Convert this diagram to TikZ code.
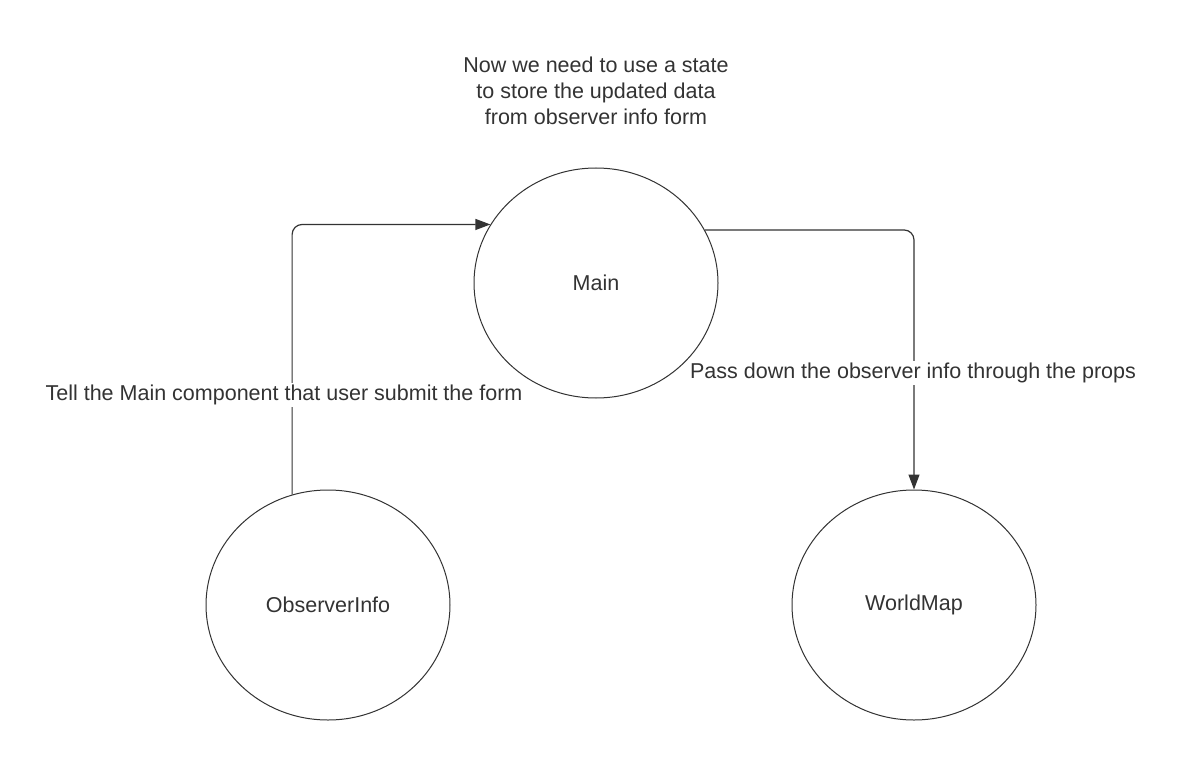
\documentclass[tikz,border=0pt]{standalone}
\usepackage{fontspec}
\setmainfont{Liberation Sans}
\usetikzlibrary{arrows.meta,shapes.geometric}
\definecolor{ink}{HTML}{333333}
\begin{document}
\begin{tikzpicture}[x=1pt,y=-1pt,
  comp/.style={draw=ink, line width=1pt, ellipse, minimum width=244pt, minimum height=230pt, inner sep=0pt, font=\fontsize{21.5}{25}\selectfont, text=ink},
  lbl/.style={fill=white, text=ink, font=\fontsize{21.5}{25}\selectfont, inner sep=2pt},
  note/.style={text=ink, font=\fontsize{21.5}{26}\selectfont, align=center},
  conn/.style={draw=ink, line width=1.2pt, rounded corners=10pt, -{Triangle[length=15pt,width=11pt]}}]
\useasboundingbox[fill=white] (0,0) rectangle (1191,770);
\node[comp] (main) at (596,283) {Main};
\node[comp] (obs) at (328,605) {ObserverInfo};
\node[comp] (world) at (914,605) {WorldMap};
\node[note] (top) at (596,91) {Now we need to use a state\\to store the updated data\\from observer info form};
\draw[conn] (obs.108) |- (main.151.7);
\draw[conn] (main.26) -| (world.north);
\node[lbl] (l1) at (284,395) {Tell the Main component that user submit the form};
\node[lbl] (l2) at (913,373) {Pass down the observer info through the props};
\end{tikzpicture}
\end{document}
